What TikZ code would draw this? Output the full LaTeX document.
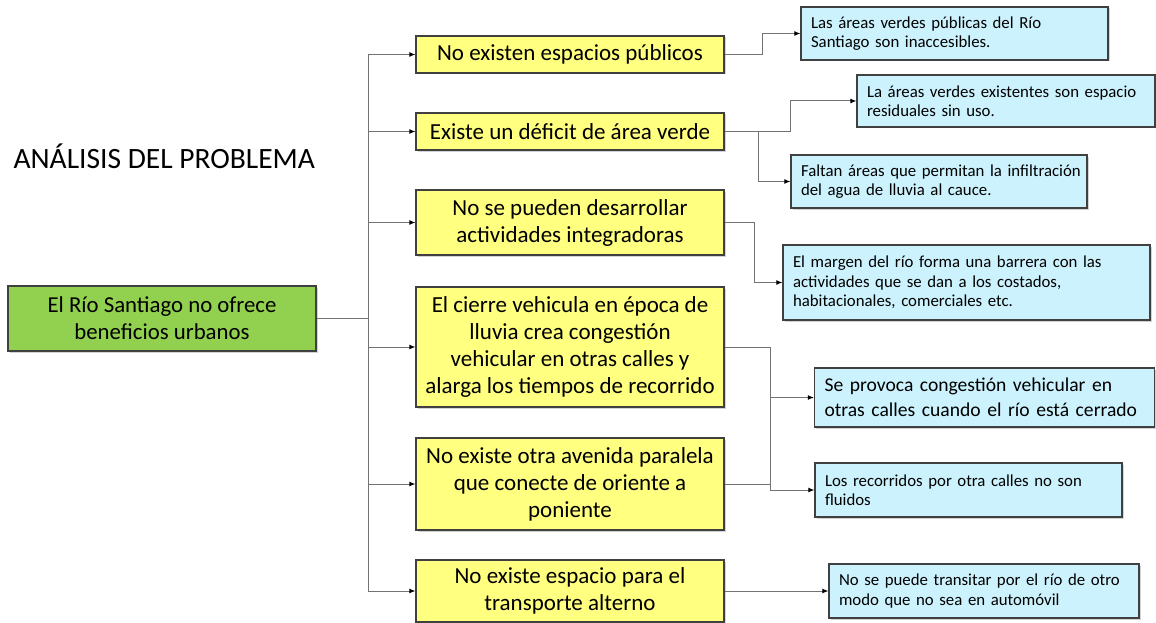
\documentclass[tikz,border=0pt]{standalone}
\usepackage{fontspec}
\setmainfont{Carlito}
\usepackage{tikz}
\usetikzlibrary{arrows.meta,positioning,shadows}
\definecolor{causeyellow}{HTML}{FFFF80}
\definecolor{rootgreen}{HTML}{92D050}
\definecolor{effectblue}{HTML}{CCF2FD}
\definecolor{boxline}{HTML}{404040}
\newcommand{\nohyph}{\hyphenpenalty=10000 \hbadness=10000 \hfuzz=20pt\relax}
\tikzset{
    %Define standard arrow tip
    >={Latex[length=6pt,width=5pt,color=black]},
    %Define style for boxes
    rootbox/.style={
           rectangle,
           draw=boxline, line width=1.3pt,
           fill=rootgreen,
           minimum width=308pt,
           minimum height=65pt,
           inner sep=0pt,
           font=\fontsize{22.8}{27}\selectfont,
           align=center,
           drop shadow={shadow xshift=1.5pt,shadow yshift=-1.5pt,opacity=0.35}},
    causebox/.style={
           rectangle,
           draw=boxline, line width=1.3pt,
           fill=causeyellow,
           minimum width=308pt,
           inner sep=0pt,
           font=\fontsize{23}{27}\selectfont,
           align=center,
           drop shadow={shadow xshift=1.5pt,shadow yshift=-1.5pt,opacity=0.35}},
    effectbox/.style={
           rectangle,
           draw=boxline, line width=1.3pt,
           fill=effectblue,
           inner xsep=10pt, inner ysep=0pt,
           font=\fontsize{16.8}{19.5}\selectfont,
           execute at begin node=\nohyph,
           align=left,
           drop shadow={shadow xshift=1.5pt,shadow yshift=-1.5pt,opacity=0.35}},
    % Define arrow style
    link/.style={
           draw=black!55,
           line width=1pt},
    pil/.style={
           link,
           ->}
}

\begin{document}
\begin{tikzpicture}[x=1pt,y=-1pt]
\useasboundingbox (0,0) rectangle (1156,623);

% title
\node[anchor=west, font=\fontsize{29.5}{32}\selectfont] (title) at (10,156) {ANÁLISIS DEL PROBLEMA};

% root
\node[rootbox] (root) at (162,318.5) {El Río Santiago no ofrece\\beneficios urbanos};

% causes
\node[causebox, minimum height=37pt] (c1) at (570,54.5) {No existen espacios públicos};
\node[causebox, minimum height=37pt] (c2) at (570,131.5) {Existe un déficit de área verde};
\node[causebox, minimum height=65pt] (c3) at (570,222.5) {No se pueden desarrollar\\actividades integradoras};
\node[causebox, minimum height=120pt] (c4) at (570,347) {El cierre vehicula en época de\\lluvia crea congestión\\vehicular en otras calles y\\alarga los tiempos de recorrido};
\node[causebox, minimum height=92pt] (c5) at (570,484) {No existe otra avenida paralela\\que conecte de oriente a\\poniente};
\node[causebox, minimum height=62pt] (c6) at (570,591) {No existe espacio para el\\transporte alterno};

% effects
\node[effectbox, text width=287pt, minimum height=53pt] (e1) at (954.5,33.5) {Las áreas verdes públicas del Río\\Santiago son inaccesibles.};
\node[effectbox, text width=278pt, minimum height=52pt] (e2) at (1006,101) {La áreas verdes existentes son espacio\\residuales sin uso.};
\node[effectbox, text width=276pt, minimum height=53pt] (e3) at (939,181.5) {\mbox{Faltan áreas que permitan la infiltración}\\del agua de lluvia al cauce.};
\node[effectbox, text width=347pt, minimum height=75pt] (e4) at (966.5,282.5) {El margen del río forma una barrera con las\\actividades que se dan a los costados,\\habitacionales, comerciales etc.};
\node[effectbox, text width=320pt, minimum height=59pt, font=\fontsize{19.6}{25}\selectfont] (e5) at (984.5,397.5) {Se provoca congestión vehicular en\\otras calles cuando el río está cerrado};
\node[effectbox, text width=287pt, minimum height=54pt] (e6) at (968.5,490) {Los recorridos por otra calles no son\\fluidos};
\node[effectbox, text width=290pt, minimum height=54pt] (e7) at (984,591) {No se puede transitar por el río de otro\\modo que no sea en automóvil};

% trunk
\coordinate (trunk) at (368,318.5);
\draw[link] (root.east) -- (trunk);
\foreach \c in {c1,c2,c3,c4,c5,c6}
    \draw[pil] (trunk) |- (\c.west);

% branches
\coordinate (bus) at (770,347);
\draw[pil] (c1.east) -- ++(38,0) |- (e1.west);
\draw[pil] (c2.east) -- ++(66,0) |- (e2.west);
\draw[pil] (c2.east) -- ++(34,0) |- (e3.west);
\draw[pil] (c3.east) -- ++(30,0) |- (e4.west);
\draw[link] (c4.east) -- (bus);
\draw[pil] (bus) |- (e5.west);
\draw[pil] (bus) |- (e6.west);
\draw[link] (c5.east) -- (c5.east -| bus);
\draw[pil] (c6.east) -- (e7.west);
\end{tikzpicture}
\end{document}
